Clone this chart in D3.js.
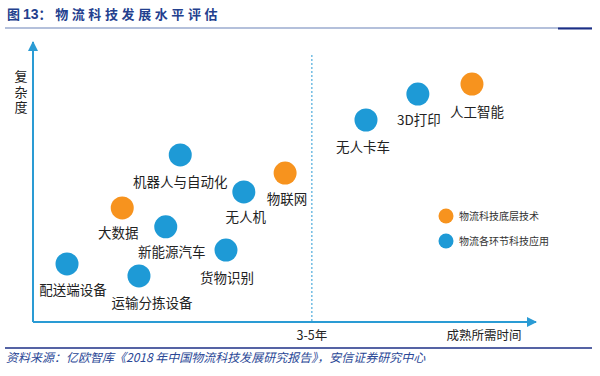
<!DOCTYPE html>
<html>
<head>
<meta charset="utf-8">
<script src="https://cdn.jsdelivr.net/npm/d3@7"></script>
<style>
  body { margin: 0; background: #fff; }
  svg { display: block; font-family: "Noto Sans CJK SC", "Noto Sans", sans-serif; }
</style>
</head>
<body>
<script>
// data: time to maturity (x) and complexity (y), arbitrary units
var names   = ["机器人与自动化", "物联网", "无人机", "大数据", "新能源汽车", "货物识别", "配送端设备", "运输分拣设备", "人工智能", "3D打印", "无人卡车"];
var maturity   = [2.64, 4.52, 3.78, 1.60, 2.38, 3.46, 0.61, 1.90, 7.87, 6.90, 5.97];
var complexity = [5.99, 5.34, 4.66, 4.09, 3.41, 2.58, 2.08, 1.65, 8.53, 8.17, 7.24];
var group   = ["app", "base", "app", "base", "app", "app", "app", "app", "base", "app", "app"];
var legendKeys  = ["base", "app"];
var legendNames = ["物流科技底层技术", "物流各环节科技应用"];
var xTickValue = 5, xTickLabel = "3-5年";

// label offsets from the circle centre (layout only)
var labelDx = [0, 2, 2, -4, 6, 1, 6, 13, 5, 1, -3];
var labelDy = [27, 26, 25, 25, 25, 28, 26, 27, 28, 26, 27];

var w = 600, h = 376;
var axisCol = "#2a9bd4";
var colors = { base: "#f7931e", app: "#1e9ad6" };

var svg = d3.select("body").append("svg")
  .attr("width", w).attr("height", h);

// title
var title = svg.append("text").attr("x", 7).attr("y", 19)
  .attr("fill", "#23408e").attr("font-size", "13px").attr("font-weight", "bold");
title.append("tspan").text("图 ");
title.append("tspan").attr("font-family", "Liberation Sans, Arial, sans-serif").attr("font-size", "14px").text("13");
title.append("tspan").attr("letter-spacing", "3.6px").text("：物流科技发展水平评估");

svg.append("line").attr("x1", 5).attr("x2", 592).attr("y1", 28).attr("y2", 28)
  .attr("stroke", "#6a82b8").attr("stroke-width", 1.2);
svg.append("line").attr("x1", 558).attr("x2", 592).attr("y1", 28.5).attr("y2", 28.5)
  .attr("stroke", "#1c2f86").attr("stroke-width", 2);

// scales
var x = d3.scaleLinear().domain([0, 9]).range([33, 535]);
var y = d3.scaleLinear().domain([0, 10]).range([322, 43]);

// arrow marker
svg.append("defs").append("marker")
  .attr("id", "arr").attr("viewBox", "0 0 10 10")
  .attr("refX", 9).attr("refY", 5)
  .attr("markerWidth", 10).attr("markerHeight", 10)
  .attr("markerUnits", "userSpaceOnUse")
  .attr("orient", "auto")
  .append("path").attr("d", "M0,0 L10,5 L0,10 Z").attr("fill", axisCol);

// axes
svg.append("line").attr("x1", x(0)).attr("y1", y(0)).attr("x2", x(0)).attr("y2", y(10) - 1)
  .attr("stroke", axisCol).attr("stroke-width", 2).attr("marker-end", "url(#arr)");
svg.append("line").attr("x1", x(0)).attr("y1", y(0)).attr("x2", x(9) + 1).attr("y2", y(0))
  .attr("stroke", axisCol).attr("stroke-width", 2).attr("marker-end", "url(#arr)");

// dashed 3-5 year line
svg.append("line").attr("x1", x(xTickValue)).attr("x2", x(xTickValue))
  .attr("y1", 55).attr("y2", y(0))
  .attr("stroke", axisCol).attr("stroke-width", 1).attr("stroke-dasharray", "2,2");

svg.append("text").attr("x", x(xTickValue)).attr("y", 340)
  .attr("text-anchor", "middle").attr("font-size", "12.5px").attr("fill", "#222")
  .text(xTickLabel);
svg.append("text").attr("x", 484).attr("y", 340)
  .attr("text-anchor", "middle").attr("font-size", "12.5px").attr("fill", "#222")
  .text("成熟所需时间");

// y axis title, vertical writing
svg.append("text").attr("x", 21).attr("y", 70)
  .style("writing-mode", "vertical-rl").style("text-orientation", "upright")
  .attr("letter-spacing", "2.5px")
  .attr("font-size", "13px").attr("fill", "#222")
  .text("复杂度");

// bubbles
var pts = names.map(function(n, i) {
  return { name: n, x: maturity[i], y: complexity[i], g: group[i], dx: labelDx[i], dy: labelDy[i] };
});

svg.append("g").selectAll("circle").data(pts).enter().append("circle")
  .attr("cx", function(d) { return x(d.x); })
  .attr("cy", function(d) { return y(d.y); })
  .attr("r", 11.5)
  .attr("fill", function(d) { return colors[d.g]; });

svg.append("g").selectAll("text").data(pts).enter().append("text")
  .attr("x", function(d) { return x(d.x) + d.dx; })
  .attr("y", function(d) { return y(d.y) + d.dy + 5; })
  .attr("text-anchor", "middle").attr("font-size", "13.5px").attr("fill", "#222")
  .text(function(d) { return d.name; });

// legend
var lg = svg.append("g").selectAll("g").data(legendKeys).enter().append("g")
  .attr("transform", function(d, i) { return "translate(446," + (216 + i * 25) + ")"; });
lg.append("circle").attr("r", 7.5).attr("fill", function(d) { return colors[d]; });
lg.append("text").attr("x", 13).attr("y", 3.5).attr("font-size", "10px").attr("fill", "#333")
  .text(function(d, i) { return legendNames[i]; });

// bottom rule + source
svg.append("line").attr("x1", 5).attr("x2", 592).attr("y1", 348).attr("y2", 348)
  .attr("stroke", "#1c2f86").attr("stroke-width", 1.5);
svg.append("text").attr("x", 6).attr("y", 362)
  .attr("font-size", "12px").attr("font-style", "italic").attr("fill", "#2a4796")
  .text("资料来源：亿欧智库《2018 年中国物流科技发展研究报告》，安信证券研究中心");
</script>
</body>
</html>
